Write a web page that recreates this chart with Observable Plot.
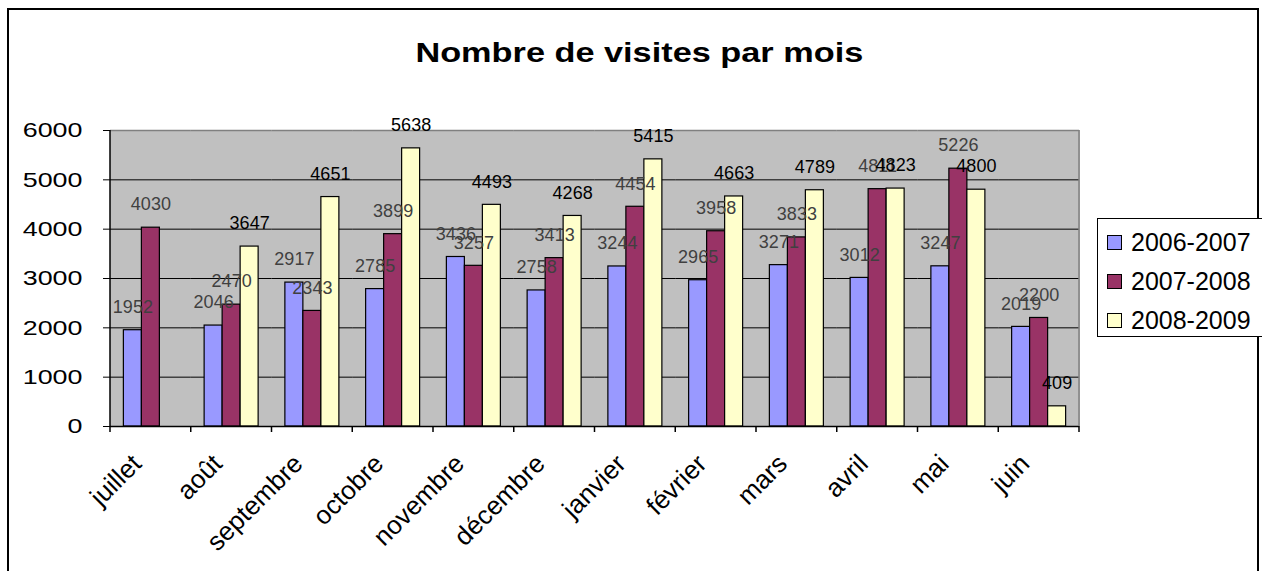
<!DOCTYPE html>
<html>
<head>
<meta charset="utf-8">
<script src="https://cdn.jsdelivr.net/npm/d3@7"></script>
<script src="https://cdn.jsdelivr.net/npm/@observablehq/plot@0.6"></script>
<style>
  body { margin: 0; background: #fff; font-family: "Liberation Sans", Arial, sans-serif; }
  #wrap { position: relative; width: 1262px; height: 571px; overflow: hidden; background: #fff; }
  #border { position: absolute; left: 7px; top: 8px; width: 1252px; height: 620px; border: 2px solid #000; box-sizing: border-box; }
  #chart { position: absolute; left: 0; top: 0; }
  #title { position: absolute; left: 8px; width: 1262px; top: 40px; text-align: center; font-weight: bold; font-size: 27px; line-height: 27px; color: #000; }
  #title span { display: inline-block; transform: scaleX(1.27); }
  #legend { position: absolute; left: 1097px; top: 218px; width: 175px; height: 119px; border: 1.5px solid #000; box-sizing: border-box; background: #fff; }
  .row { position: absolute; left: 9px; height: 26px; display: flex; align-items: center; font-size: 25px; line-height: 26px; color: #000; }
  .sw { width: 15px; height: 15px; border: 1px solid #000; box-sizing: border-box; margin-right: 9px; }
</style>
</head>
<body>
<div id="wrap">
  <div id="border"></div>
  <div id="chart"></div>
  <div id="title"><span>Nombre de visites par mois</span></div>
  <div id="legend"></div>
</div>
<script>
const months = ["juillet", "août", "septembre", "octobre", "novembre", "décembre", "janvier", "février", "mars", "avril", "mai", "juin"];
const series = ["2006-2007", "2007-2008", "2008-2009"];
const visits0607 = [1952, 2046, 2917, 2785, 3436, 2758, 3244, 2965, 3271, 3012, 3247, 2019];
const visits0708 = [4030, 2470, 2343, 3899, 3257, 3413, 4454, 3958, 3833, 4811, 5226, 2200];
const visits0809 = [null, 3647, 4651, 5638, 4493, 4268, 5415, 4663, 4789, 4823, 4800, 409];
const colors = ["#9999FF", "#993366", "#FFFFCC"];
const yTicks = [0, 1000, 2000, 3000, 4000, 5000, 6000];

const seriesValues = [visits0607, visits0708, visits0809];
const data = months.flatMap((m, i) => series.map((s, j) => ({month: m, series: s, value: seriesValues[j][i]})));
const has = d => d.value != null;

const chart = Plot.plot({
  width: 1262,
  height: 571,
  marginLeft: 110,
  marginRight: 183,
  marginTop: 130,
  marginBottom: 145,
  style: {fontFamily: "'Liberation Sans', Arial, sans-serif", background: "transparent", color: "#000", overflow: "visible"},
  facet: {data, x: "month"},
  fx: {domain: months, padding: 0, round: false, label: null},
  x: {domain: series, paddingInner: 0, paddingOuter: 0.743, round: false, axis: null},
  y: {domain: [0, 6000], label: null},
  color: {domain: series, range: colors},
  marks: [
    Plot.frame({fill: "#C0C0C0", stroke: "#C0C0C0"}),
    Plot.ruleY(yTicks.filter(t => t > 0 && t < 6000), {stroke: "#000", strokeWidth: 1}),
    Plot.ruleY([6000], {stroke: "#808080", strokeWidth: 1.5}),
    Plot.barY(data, {x: "series", y: "value", fill: "series", stroke: "#000", strokeWidth: 1.2, filter: has}),
    Plot.ruleY([0], {stroke: "#000", strokeWidth: 1.5}),
    Plot.text(data, {x: "series", y: "value", text: d => String(d.value), filter: d => has(d) && d.series !== series[2], fill: "#404040", fontSize: 18, dy: -23}),
    Plot.text(data, {x: "series", y: "value", text: d => String(d.value), filter: d => has(d) && d.series === series[2], fill: "#000", fontSize: 18, dy: -23}),
    Plot.axisY({ticks: yTicks, tickFormat: d => String(d), tickSize: 7, tickPadding: 21, fontSize: 21, label: null}),
    Plot.axisFx({anchor: "bottom", tickSize: 0, tickPadding: 33, tickRotate: -45, fontSize: 26, label: null, textAnchor: "end", dx: -14})
  ]
});
document.getElementById("chart").appendChild(chart);

// stretch y tick labels horizontally like the original
d3.select(chart).selectAll('g[aria-label="y-axis tick label"] text').each(function() {
  const t = this.getAttribute("transform") || "";
  this.setAttribute("transform", t + " scale(1.28,1)");
});

// axis lines, category boundary ticks and plot-area right border, from the library's scales
const fx = chart.scale("fx");
const ys = chart.scale("y");
const y0 = ys.apply(0), yTop = ys.apply(6000);
const bounds = months.map(m => fx.apply(m)).concat([fx.apply(months[months.length - 1]) + fx.bandwidth]);
const svg = d3.select(chart);
const g = svg.append("g");
g.selectAll("line.b").data(bounds).join("line")
  .attr("x1", d => d).attr("x2", d => d).attr("y1", y0).attr("y2", y0 + 6)
  .attr("stroke", "#000").attr("stroke-width", 1.5);
g.append("line").attr("x1", bounds[0]).attr("x2", bounds[0]).attr("y1", yTop).attr("y2", y0)
  .attr("stroke", "#000").attr("stroke-width", 1.5);
g.append("line").attr("x1", bounds[bounds.length - 1]).attr("x2", bounds[bounds.length - 1]).attr("y1", yTop).attr("y2", y0)
  .attr("stroke", "#808080").attr("stroke-width", 1.5);

// legend
const legend = document.getElementById("legend");
const rowCenters = [23, 62, 101];
series.forEach((s, i) => {
  const row = document.createElement("div");
  row.className = "row";
  row.style.top = (rowCenters[i] - 13) + "px";
  const sw = document.createElement("div");
  sw.className = "sw";
  sw.style.background = colors[i];
  const tx = document.createElement("span");
  tx.textContent = s;
  row.appendChild(sw);
  row.appendChild(tx);
  legend.appendChild(row);
});
</script>
</body>
</html>
